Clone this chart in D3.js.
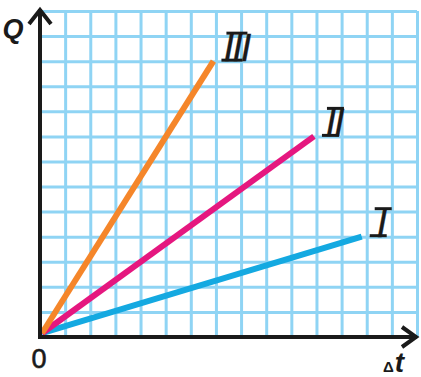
<!DOCTYPE html>
<meta charset="utf-8">
<style>
    body { margin: 0; background: #fff; }
    svg { display: block; }
    .grid line { stroke: #8fd4f4; stroke-width: 3px; }
    .grid .domain { display: none; }
    .axis-line { stroke: #1a1a1a; stroke-width: 4px; fill: none; }
    .series { stroke-width: 6px; fill: none; stroke-linecap: butt; }
    .bar { stroke: #1a1a1a; stroke-width: 3px; }
    text { font-family: "Liberation Sans", Arial, sans-serif; fill: #1a1a1a; }
</style>

<svg width="421" height="377"></svg>

<script src="https://cdn.jsdelivr.net/npm/d3@7"></script>
<script>
    // data (grid units)
    var names = ["I", "II", "III"],
        endX = [12.8, 10.9, 6.9],
        endY = [4, 8, 11],
        colors = ["#14a9e1", "#e5177f", "#f5862a"],
        gridCols = 15,
        gridRows = 13;

    (function () {
        var svg = d3.select("svg"),
            left = 40, right = 417, top = 11, bottom = 337,
            x = d3.scaleLinear().domain([0, gridCols]).range([left, right]),
            y = d3.scaleLinear().domain([0, gridRows]).range([bottom, top]);

        // grid
        svg.append("g")
            .attr("class", "grid")
            .attr("transform", "translate(0," + bottom + ")")
            .call(d3.axisBottom(x).tickValues(d3.range(gridCols + 1)).tickSize(-(bottom - top)).tickFormat(""));
        svg.append("g")
            .attr("class", "grid")
            .attr("transform", "translate(" + left + ",0)")
            .call(d3.axisLeft(y).tickValues(d3.range(gridRows + 1)).tickSize(-(right - left)).tickFormat(""));

        // series lines
        var line = d3.line().x(function (d) { return x(d[0]); }).y(function (d) { return y(d[1]); });
        svg.selectAll(".series")
            .data(names)
            .enter()
            .append("path")
            .attr("class", "series")
            .attr("stroke", function (d, i) { return colors[i]; })
            .attr("d", function (d, i) { return line([[0.08, 0.15], [endX[i], endY[i]]]); });

        // axes
        svg.append("path").attr("class", "axis-line")
            .attr("d", "M" + left + "," + (bottom + 2) + "V" + 9);
        svg.append("path").attr("class", "axis-line")
            .attr("d", "M" + (left - 2) + "," + bottom + "H" + 417);
        svg.append("path").attr("class", "axis-line")
            .attr("d", "M" + (left - 11) + ",24L" + left + ",10L" + (left + 11) + ",24");
        svg.append("path").attr("class", "axis-line")
            .attr("d", "M402," + (bottom - 10) + "L416," + bottom + "L402," + (bottom + 10));

        // axis labels
        svg.append("text").attr("x", 13).attr("y", 38)
            .attr("text-anchor", "middle")
            .style("font-size", "27px").style("font-weight", "bold").style("font-style", "italic")
            .text("Q");
        svg.append("text").attr("x", 39).attr("y", 368)
            .attr("text-anchor", "middle")
            .style("font-size", "27px")
            .style("stroke", "#1a1a1a").style("stroke-width", "0.6px")
            .text("0");
        var dt = svg.append("text").attr("x", 383).attr("y", 372);
        dt.append("tspan").style("font-size", "15px").style("font-weight", "bold").text("Δ");
        dt.append("tspan").attr("dx", 1).style("font-size", "28px").style("font-weight", "bold")
            .style("font-style", "italic").text("t");

        // roman numeral labels with bars
        var labels = svg.selectAll(".label")
            .data(names)
            .enter()
            .append("g")
            .attr("class", "label")
            .attr("transform", function (d, i) {
                return "translate(" + (x(endX[i]) + 8) + "," + (y(endY[i]) - 1) + ")";
            });
        var barW = function (d) { return d.length === 3 ? 21 : 17; };
        labels.append("text")
            .attr("x", function (d) { return barW(d) / 2 + 2.5 + (d.length - 1) * 1; })
            .attr("y", 1)
            .attr("text-anchor", "middle")
            .style("font-size", "38px").style("font-style", "italic")
            .style("stroke", "#1a1a1a").style("stroke-width", "0.3px")
            .style("letter-spacing", "-2px")
            .text(function (d) { return d; });
        labels.append("line").attr("class", "bar")
            .attr("x1", 0).attr("x2", barW).attr("y1", 0).attr("y2", 0);
        labels.append("line").attr("class", "bar")
            .attr("x1", 5).attr("x2", function (d) { return barW(d) + 5; })
            .attr("y1", -27).attr("y2", -27);
    })();
</script>
